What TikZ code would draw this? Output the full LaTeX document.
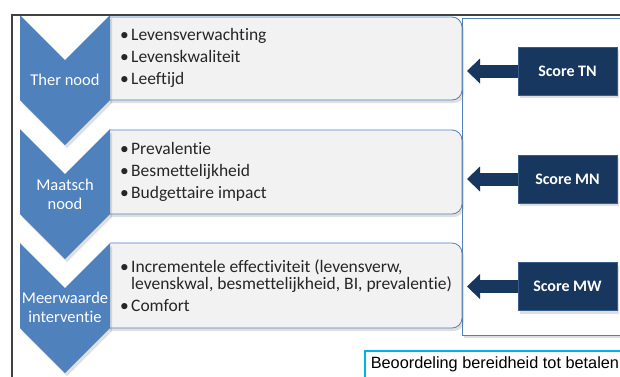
\documentclass[tikz,border=0pt]{standalone}
\usepackage{fontspec}
\setmainfont[Ligatures=NoCommon]{Carlito}
\newfontfamily\arialfont{Liberation Sans}
\usetikzlibrary{arrows.meta,shadows}

\definecolor{chevblue}{RGB}{79,129,189}
\definecolor{boxgray}{RGB}{242,242,242}
\definecolor{scorenavy}{RGB}{23,55,94}
\definecolor{scoreedge}{RGB}{56,93,138}
\definecolor{framegray}{RGB}{64,64,64}
\definecolor{skyblue}{RGB}{0,176,240}

\newcommand{\bul}{\makebox[11pt][l]{•}}
\newcommand{\nobul}{\makebox[11pt][l]{}}

\begin{document}
\begin{tikzpicture}[x=1pt,y=-1pt,>={Triangle[length=13pt,width=25pt,line width=0pt]}]
	\tikzstyle{softshadow} = [drop shadow={opacity=0.25,shadow xshift=2pt,shadow yshift=-3pt}];
	\tikzstyle{chev} = [fill=chevblue,softshadow];
	\tikzstyle{itembox} = [fill=boxgray,draw=chevblue,line width=0.8pt,softshadow];
	\tikzstyle{items} = [anchor=west,inner sep=0pt,align=left,text=black!85,font=\fontsize{17.5}{17}\selectfont];
	\tikzstyle{chevlabel} = [text=white,align=center,inner sep=0pt,font=\fontsize{16.5}{19}\selectfont];
	\tikzstyle{panel} = [draw=chevblue,fill=white,line width=0.8pt,anchor=north west,softshadow];
	\tikzstyle{score} = [fill=scorenavy,draw=scoreedge,line width=0.8pt,text=white,minimum width=99pt,minimum height=48pt,font=\bfseries\fontsize{16}{19}\selectfont,softshadow];
	\tikzstyle{scorearrow} = [->,draw=scorenavy,line width=13pt,shorten >=5pt];
	\useasboundingbox (0,0) rectangle (620,376);
	\clip (0,0) rectangle (620,376);

	% score panel on the right
	\node[panel,minimum width=180pt,minimum height=317pt] (panel) at (462,18) {};

	% grey item boxes, left side hidden behind the chevrons
	\begin{scope}
		\clip (110,0) rectangle (620,376);
		\path[itembox,rounded corners=10pt] (90,17) rectangle (462,100);
		\path[itembox,rounded corners=10pt] (90,130) rectangle (462,214);
		\path[itembox,rounded corners=10pt] (90,243) rectangle (462,328);
	\end{scope}

	% chevrons
	\fill[chev] (20,15) -- ++(45,45) -- ++(45,-45) -- ++(0,85) -- ++(-45,45) -- ++(-45,-45) -- cycle;
	\fill[chev] (20,129) -- ++(45,45) -- ++(45,-45) -- ++(0,85) -- ++(-45,45) -- ++(-45,-45) -- cycle;
	\fill[chev] (20,243) -- ++(45,45) -- ++(45,-45) -- ++(0,85) -- ++(-45,45) -- ++(-45,-45) -- cycle;

	\node[chevlabel] (tn label) at (65,80) {Ther nood};
	\node[chevlabel] (mn label) at (65,194) {Maatsch\\nood};
	\node[chevlabel] (mw label) at (65,307) {Meerwaarde\\interventie};

	\node[items] (tn items) at (120,58) {\bul Levensverwachting\\[5pt]\bul Levenskwaliteit\\[5pt]\bul Leeftijd};
	\node[items] (mn items) at (120,172) {\bul Prevalentie\\[5pt]\bul Besmettelijkheid\\[5pt]\bul Budgettaire impact};
	\node[items] (mw items) at (120,286) {\bul Incrementele effectiviteit (levensverw,\\\nobul levenskwal, besmettelijkheid, BI, prevalentie)\\[5pt]\bul Comfort};

	% scores
	\node[score] (tn) at (567.5,71) {Score TN};
	\node[score] (mn) at (567.5,179) {Score MN};
	\node[score] (mw) at (567.5,286.5) {Score MW};

	\draw[scorearrow] (tn.west) -- (tn.west -| panel.west);
	\draw[scorearrow] (mn.west) -- (mn.west -| panel.west);
	\draw[scorearrow] (mw.west) -- (mw.west -| panel.west);

	% outer frame
	\draw[framegray,line width=1.5pt] (12,380) -- (12,15) -- (625,15);

	\node[draw=skyblue,line width=1.6pt,fill=white,anchor=base west,inner xsep=6pt,inner ysep=0pt,text height=17pt,text depth=20pt,font=\arialfont\fontsize{16.3}{19}\selectfont] (pay) at (364,368) {Beoordeling bereidheid tot betalen};
\end{tikzpicture}
\end{document}
